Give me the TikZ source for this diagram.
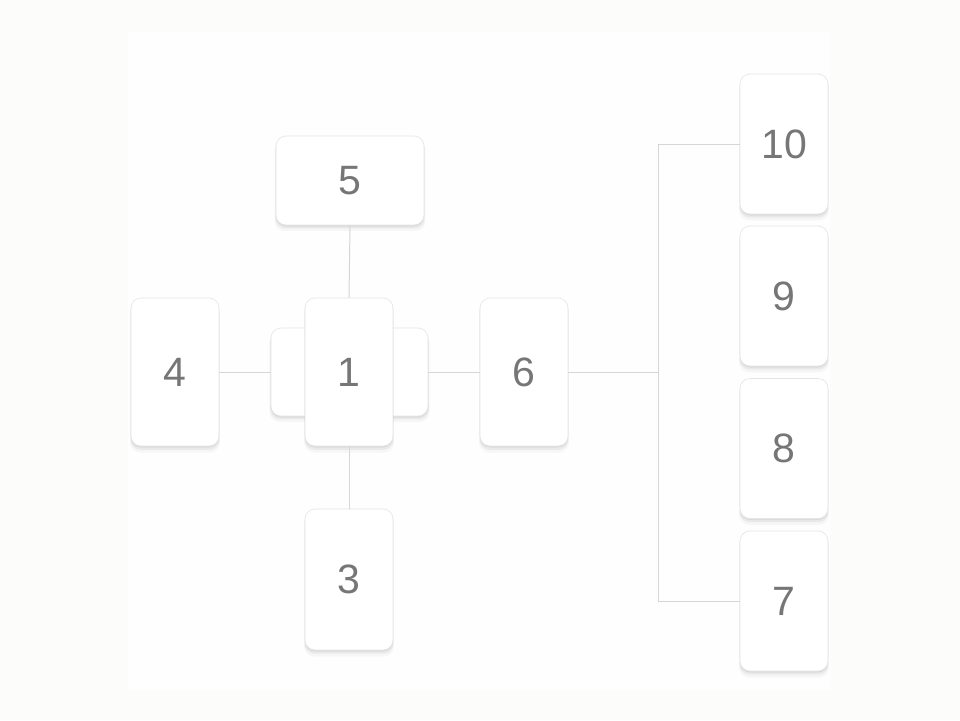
\documentclass[tikz,border=0pt]{standalone}
\usepackage{fontspec}
\setmainfont{Liberation Sans}
\usetikzlibrary{shadows}
\definecolor{bgc}{HTML}{FCFCFB}
\definecolor{innerc}{HTML}{FEFEFE}
\definecolor{linec}{HTML}{D6D6D6}
\definecolor{edgec}{HTML}{E4E4E4}
\definecolor{txtc}{HTML}{767676}
\tikzset{
  card/.style={draw=edgec, fill=white, rounded corners=10pt, line width=0.6pt,
    inner sep=0pt, font=\fontsize{41}{41}\selectfont, text=txtc,
    drop shadow={shadow xshift=0pt, shadow yshift=-5pt, shadow scale=1.02, opacity=0.03, fill=black},
    drop shadow={shadow xshift=0pt, shadow yshift=-3pt, shadow scale=1.01, opacity=0.05, fill=black},
    drop shadow={shadow xshift=0pt, shadow yshift=-1.5pt, opacity=0.06, fill=black}},
  link/.style={draw=linec, line width=1pt}
}
\begin{document}
\begin{tikzpicture}[x=1pt,y=-1pt]
\useasboundingbox (0,0) rectangle (960,720);
\fill[bgc] (0,0) rectangle (960,720);
\fill[innerc] (128,32) rectangle (830,690);
% cards
\node[card, minimum width=148pt, minimum height=89pt] (n5) at (350,180.5) {5};
\node[card, minimum width=157pt, minimum height=88pt] (back) at (349.5,372) {};
\node[card, minimum width=88pt, minimum height=148pt] (n1) at (349,372) {1};
\node[card, minimum width=88pt, minimum height=148pt] (n4) at (175,372) {4};
\node[card, minimum width=88pt, minimum height=148pt] (n6) at (524,372) {6};
\node[card, minimum width=88pt, minimum height=141pt] (n3) at (349,579.5) {3};
\node[card, minimum width=88pt, minimum height=140pt] (n10) at (784,144) {10};
\node[card, minimum width=88pt, minimum height=140pt] (n9) at (784,296) {9};
\node[card, minimum width=88pt, minimum height=140pt] (n8) at (784,448.5) {8};
\node[card, minimum width=88pt, minimum height=140pt] (n7) at (784,601) {7};
% connectors
\coordinate (j) at (658,372);
\draw[link] (n5.south) -- (n1.north);
\draw[link] (n1.south) -- (n3.north);
\draw[link] (n4.east) -- (back.west);
\draw[link] (back.east) -- (n6.west);
\draw[link] (n6.east) -- (j);
\draw[link] (n10.west) -| (j);
\draw[link] (n7.west) -| (j);
\end{tikzpicture}
\end{document}
